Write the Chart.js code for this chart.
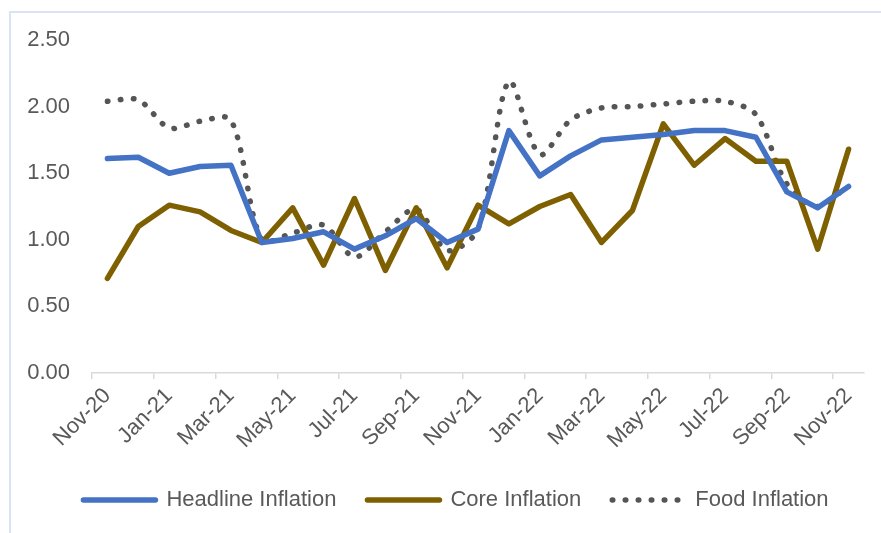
<!DOCTYPE html>
<html>
<head>
<meta charset="utf-8">
<script src="https://cdn.jsdelivr.net/npm/chart.js@4"></script>
<style>
  body { margin: 0; background: #fff; }
  #frame { position: absolute; left: 9px; top: 11px; width: 900px; height: 540px; border-top: 2px solid #DAE3F3; border-left: 2px solid #DAE3F3; }
  #myChart { position: absolute; left: 0; top: 0; }
</style>
</head>
<body>
<div id="frame"></div>
<canvas id="myChart" width="881" height="533"></canvas>
<script>
var months = ['Nov-20', 'Dec-20', 'Jan-21', 'Feb-21', 'Mar-21', 'Apr-21', 'May-21', 'Jun-21', 'Jul-21', 'Aug-21', 'Sep-21', 'Oct-21', 'Nov-21',
    'Dec-21', 'Jan-22', 'Feb-22', 'Mar-22', 'Apr-22', 'May-22', 'Jun-22', 'Jul-22', 'Aug-22', 'Sep-22', 'Oct-22', 'Nov-22'];
var headline = [1.61, 1.62, 1.50, 1.55, 1.56, 0.98, 1.01, 1.06, 0.93, 1.03, 1.16, 0.98, 1.08, 1.82, 1.48, 1.63, 1.75, 1.77, 1.79, 1.82, 1.82, 1.77, 1.36, 1.24, 1.40];
var core = [0.71, 1.10, 1.26, 1.21, 1.07, 0.98, 1.24, 0.81, 1.31, 0.77, 1.24, 0.79, 1.26, 1.12, 1.25, 1.34, 0.98, 1.22, 1.87, 1.56, 1.76, 1.59, 1.59, 0.93, 1.68];
var food = [2.04, 2.05, 1.84, 1.89, 1.90, 1.00, 1.05, 1.11, 0.87, 1.06, 1.23, 0.92, 1.08, 2.19, 1.64, 1.90, 1.99, 2.00, 2.02, 2.04, 2.04, 1.94, 1.42, 1.25, 1.41];
var yTicks = [0, 0.5, 1, 1.5, 2, 2.5];

var ctx = document.getElementById('myChart');
var font = "'Liberation Sans', Arial, sans-serif";

// legend sits a little right of the plot centre in the original
var shiftLegend = {
    id: 'shiftLegend',
    afterLayout: function(chart) {
        chart.legend.left += 14;
        chart.legend.right += 14;
    }
};

var myChart = new Chart(ctx, {
    type: 'line',
    data: {
        labels: months,
        datasets: [{
            label: 'Headline Inflation',
            data: headline,
            borderColor: '#4472C4',
            backgroundColor: '#4472C4',
            borderWidth: 5.5,
            borderCapStyle: 'round',
            borderJoinStyle: 'round',
            pointRadius: 0,
            tension: 0
        }, {
            label: 'Core Inflation',
            data: core,
            borderColor: '#7F6000',
            backgroundColor: '#7F6000',
            borderWidth: 5.5,
            borderCapStyle: 'round',
            borderJoinStyle: 'round',
            pointRadius: 0,
            tension: 0
        }, {
            label: 'Food Inflation',
            data: food,
            borderColor: '#555555',
            backgroundColor: '#555555',
            borderWidth: 5.5,
            borderDash: [0.5, 12.5],
            borderCapStyle: 'round',
            borderJoinStyle: 'round',
            pointRadius: 0,
            tension: 0.3
        }]
    },
    plugins: [shiftLegend],
    options: {
        responsive: false,
        animation: false,
        devicePixelRatio: 1,
        layout: {
            padding: { left: 20, right: 17, top: 40, bottom: 12 }
        },
        plugins: {
            tooltip: { enabled: false },
            legend: {
                position: 'bottom',
                labels: {
                    usePointStyle: true,
                    pointStyleWidth: 72,
                    padding: 31,
                    color: '#595959',
                    font: { family: font, size: 22 },
                    generateLabels: function(chart) {
                        return chart.data.datasets.map(function(ds, i) {
                            return {
                                text: ds.label,
                                fillStyle: ds.borderColor,
                                strokeStyle: ds.borderColor,
                                lineWidth: ds.borderWidth,
                                lineDash: ds.borderDash || [],
                                lineCap: 'round',
                                pointStyle: 'line',
                                fontColor: '#595959',
                                datasetIndex: i
                            };
                        });
                    }
                }
            }
        },
        scales: {
            x: {
                offset: true,
                grid: {
                    offset: true,
                    drawOnChartArea: false,
                    tickLength: 6,
                    lineWidth: 1.5,
                    color: function(c) { return c.index % 2 === 0 ? '#D9D9D9' : 'rgba(0,0,0,0)'; }
                },
                border: { color: '#D9D9D9', width: 1.5 },
                ticks: {
                    autoSkip: false,
                    minRotation: 45,
                    maxRotation: 45,
                    padding: 4,
                    color: '#595959',
                    font: { family: font, size: 22 },
                    callback: function(v, i) { return i % 2 === 0 ? months[i] : ''; }
                },
                afterFit: function(scale) { scale.height = 85; }
            },
            y: {
                min: yTicks[0],
                max: yTicks[yTicks.length - 1],
                grid: { display: false, drawTicks: false },
                border: { display: false },
                ticks: {
                    stepSize: 0.5,
                    padding: 22,
                    color: '#595959',
                    font: { family: font, size: 22 },
                    callback: function(v) { return v.toFixed(2); }
                },
                afterFit: function(scale) { scale.width = 72; }
            }
        }
    }
});
</script>
</body>
</html>
